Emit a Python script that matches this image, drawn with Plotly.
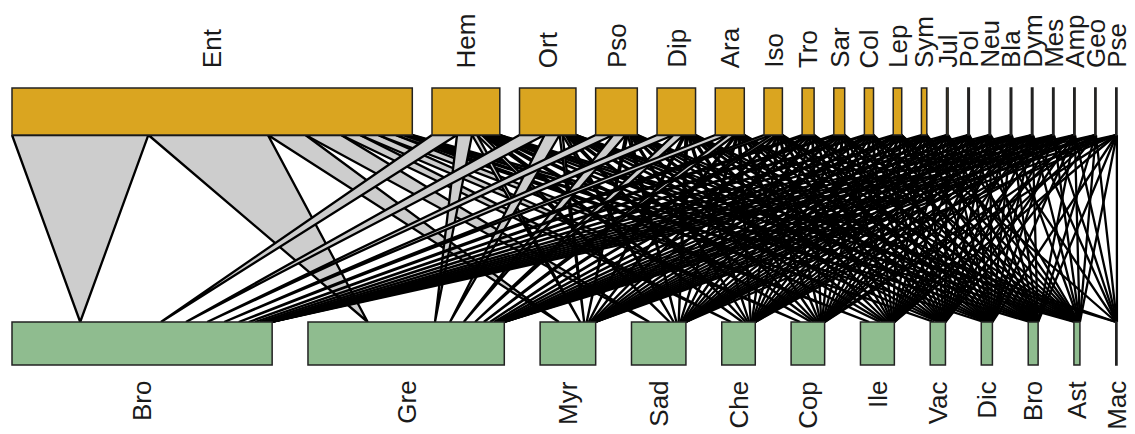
import plotly.graph_objects as go

top_names = ["Ent", "Hem", "Ort", "Pso", "Dip", "Ara", "Iso", "Tro", "Sar", "Col", "Lep",
             "Sym", "Jul", "Pol", "Neu", "Bla", "Dym", "Mes", "Amp", "Geo", "Pse"]
bottom_names = ["Bro", "Gre", "Myr", "Sad", "Che", "Cop", "Ile", "Vac", "Dic", "Bro", "Ast", "Mac"]

# interaction counts: rows = top (higher level), columns = bottom (lower level)
# columns: Bro, Gre, Myr, Sad, Che, Cop, Ile, Vac, Dic, Bro, Ast, Mac
web = [
    [1090, 955, 300, 285, 150, 145, 140, 60, 40, 26, 8, 0],    # Ent
    [200, 120, 40, 40, 32, 30, 34, 14, 10, 12, 8, 2],          # Hem
    [200, 120, 24, 24, 20, 18, 20, 8, 6, 6, 4, 1],             # Ort
    [140, 100, 16, 20, 12, 14, 16, 4, 4, 4, 3, 0],             # Pso
    [132, 80, 16, 16, 12, 14, 16, 8, 4, 6, 4, 0],              # Dip
    [100, 60, 12, 12, 12, 10, 12, 4, 4, 4, 2, 0],              # Ara
    [60, 40, 8, 8, 4, 8, 8, 4, 2, 3, 2, 0],                    # Iso
    [40, 24, 4, 8, 4, 4, 4, 2, 2, 2, 2, 0],                    # Tro
    [36, 20, 4, 4, 4, 6, 4, 2, 3, 2, 2, 0],                    # Sar
    [28, 16, 4, 4, 4, 4, 4, 3, 2, 2, 2, 0],                    # Col
    [24, 16, 4, 4, 4, 4, 2, 2, 3, 2, 2, 1],                    # Lep
    [16, 8, 3, 2, 2, 3, 2, 3, 1, 2, 1, 0],                     # Sym
    [2, 2, 1, 1, 1, 1, 1, 1, 1, 1, 1, 0],                      # Jul
    [2, 1, 1, 1, 1, 1, 1, 1, 1, 1, 1, 0],                      # Pol
    [2, 1, 1, 1, 1, 1, 1, 1, 1, 1, 0, 1],                      # Neu
    [2, 1, 1, 1, 1, 1, 1, 1, 1, 1, 1, 0],                      # Bla
    [1, 1, 1, 1, 1, 1, 1, 1, 1, 1, 1, 1],                      # Dym
    [1, 1, 1, 1, 1, 1, 1, 1, 1, 0, 1, 1],                      # Mes
    [1, 1, 1, 1, 1, 0, 1, 1, 1, 1, 1, 1],                      # Amp
    [1, 1, 1, 0, 1, 1, 1, 1, 0, 1, 1, 1],                      # Geo
    [1, 1, 1, 1, 0, 1, 1, 0, 1, 1, 1, 1],                      # Pse
]

# ---- layout (page pixel coordinates; page body has an 8px margin) ----
PAGE_W, PAGE_H = 1135, 434
PAD = 8
X0, X1 = 12, 1117
TOP_Y0, TOP_Y1 = 88, 135
BOT_Y0, BOT_Y1 = 322, 365
TOP_GAP = 19.7

nt, nb = len(top_names), len(bottom_names)
top_tot = [sum(r) for r in web]
bot_tot = [sum(web[i][j] for i in range(nt)) for j in range(nb)]
total = sum(top_tot)
s = (X1 - X0 - (nt - 1) * TOP_GAP) / total
bot_gap = (X1 - X0 - total * s) / (nb - 1)

top_left = []
c = X0
for i in range(nt):
    top_left.append(c)
    c += top_tot[i] * s + TOP_GAP
bot_left = []
c = X0
for j in range(nb):
    bot_left.append(c)
    c += bot_tot[j] * s + bot_gap

# bottom attachment centres (ordered by top species inside each bottom box)
bot_center = [[None] * nb for _ in range(nt)]
for j in range(nb):
    cur = bot_left[j]
    for i in range(nt):
        w = web[i][j] * s
        bot_center[i][j] = cur + w / 2
        cur += w

fig = go.Figure()
for i in range(nt):
    cur = top_left[i]
    for j in range(nb):
        v = web[i][j]
        if v <= 0:
            continue
        w = v * s
        a, b = cur, cur + w
        cur += w
        cx = bot_center[i][j]
        fig.add_trace(go.Scatter(
            x=[a, b, cx, a], y=[TOP_Y1, TOP_Y1, BOT_Y0, TOP_Y1],
            mode="lines", fill="toself", fillcolor="#CDCDCD",
            line=dict(color="black", width=2.3), hoverinfo="skip", showlegend=False))

shapes = []
annotations = []
FONT = dict(family="Liberation Sans, Arial, sans-serif", size=26, color="#1a1a1a")
for i in range(nt):
    x0 = top_left[i]
    x1 = x0 + top_tot[i] * s
    shapes.append(dict(type="rect", x0=x0, x1=x1, y0=TOP_Y0, y1=TOP_Y1,
                       fillcolor="#DAA520", line=dict(color="#222222", width=1.5), layer="above"))
    annotations.append(dict(x=(x0 + x1) / 2, y=70, text=top_names[i], textangle=-90,
                            showarrow=False, xanchor="center", yanchor="bottom", font=FONT))
for j in range(nb):
    x0 = bot_left[j]
    x1 = x0 + bot_tot[j] * s
    shapes.append(dict(type="rect", x0=x0, x1=x1, y0=BOT_Y0, y1=BOT_Y1,
                       fillcolor="#8FBC8F", line=dict(color="#222222", width=1.5), layer="above"))
    annotations.append(dict(x=(x0 + x1) / 2, y=379, text=bottom_names[j], textangle=-90,
                            showarrow=False, xanchor="center", yanchor="top", font=FONT))

fig.update_layout(
    width=PAGE_W - PAD, height=PAGE_H - PAD, margin=dict(l=0, r=0, t=0, b=0),
    paper_bgcolor="white", plot_bgcolor="white",
    xaxis=dict(range=[PAD, PAGE_W], visible=False, fixedrange=True),
    yaxis=dict(range=[PAGE_H, PAD], visible=False, fixedrange=True),
    shapes=shapes, annotations=annotations, showlegend=False,
)
fig.write_html("out.html")
